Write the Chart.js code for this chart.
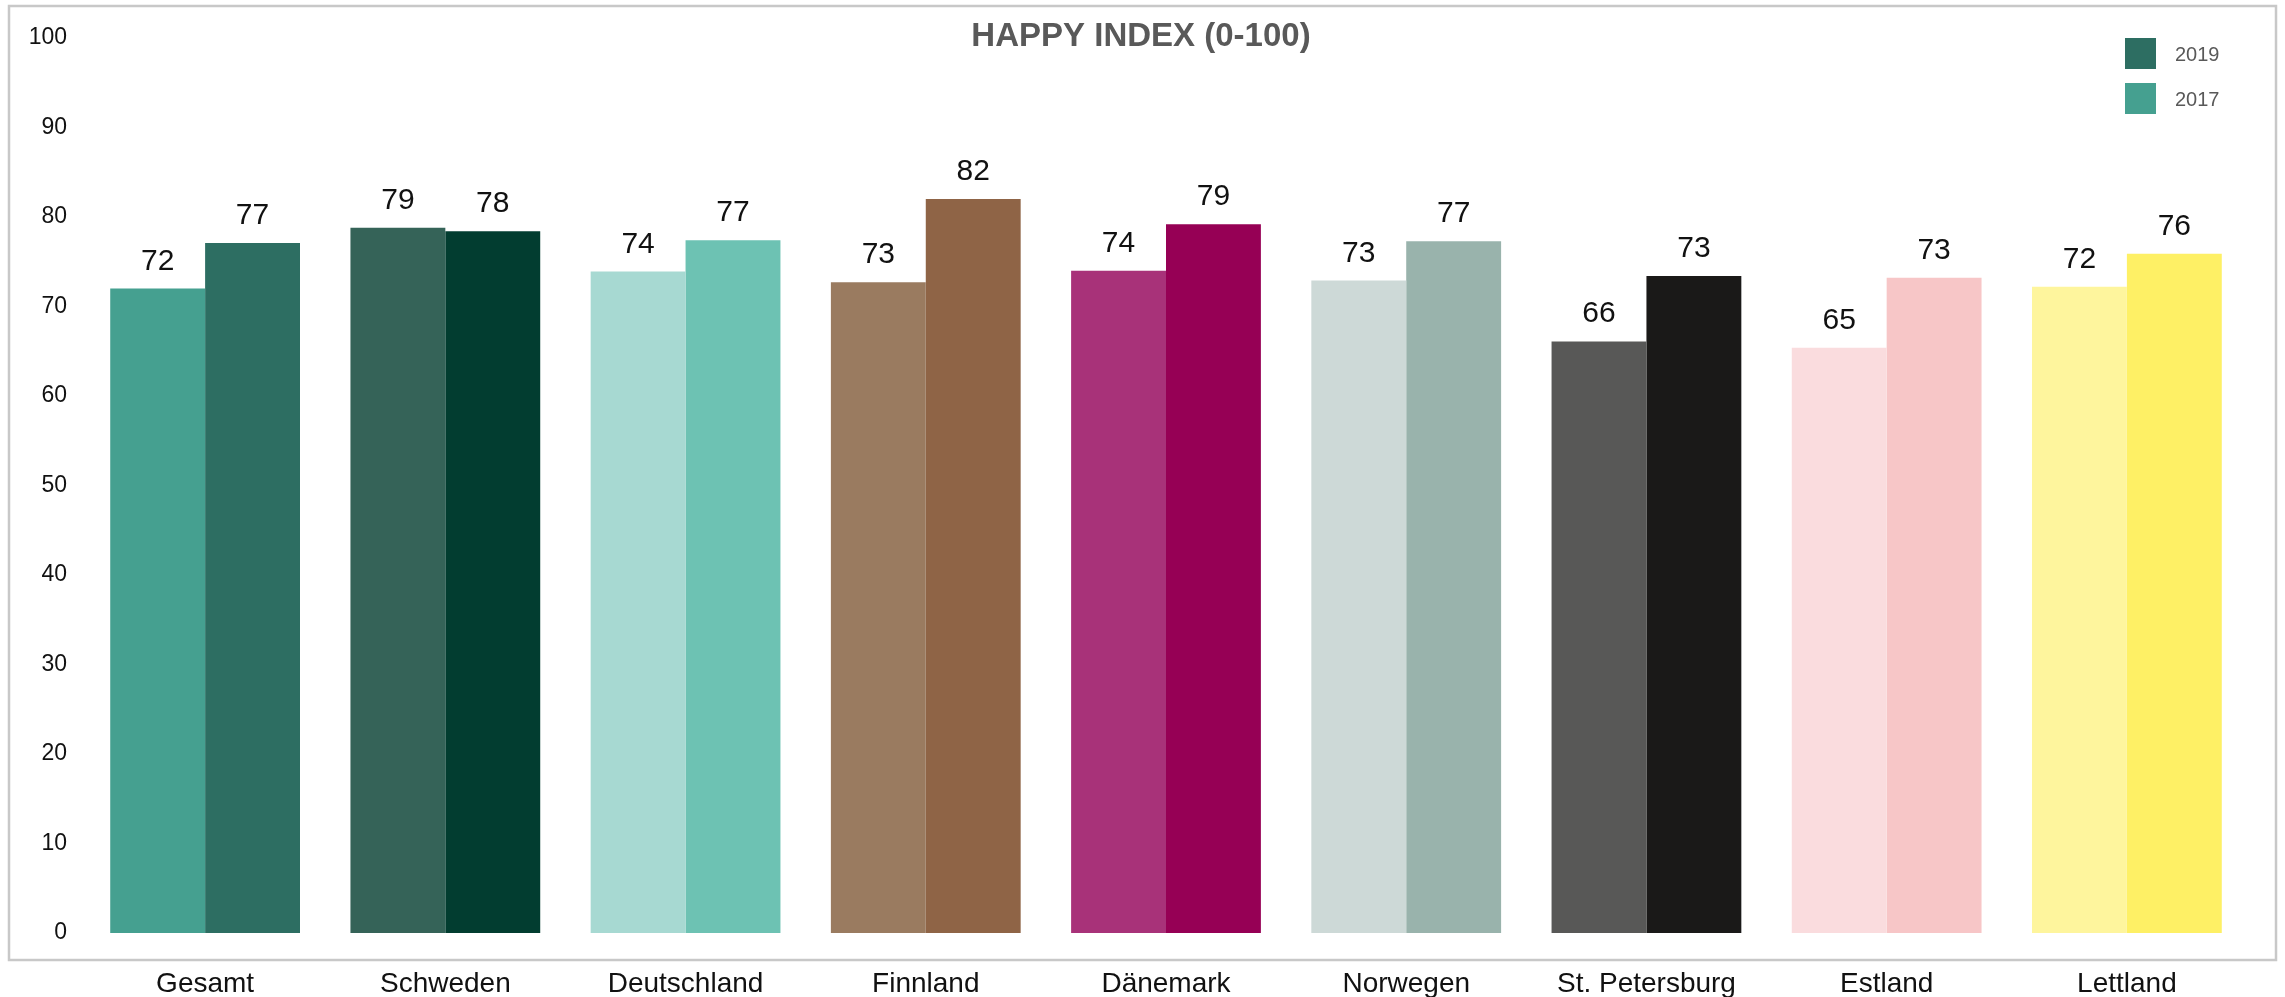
<!DOCTYPE html>
<html>
<head>
<meta charset="utf-8">
<script src="https://cdn.jsdelivr.net/npm/chart.js@4.4.1/dist/chart.umd.min.js"></script>
<style>
  html, body { margin: 0; padding: 0; background: #ffffff; }
  #wrap { width: 2285px; height: 997px; position: relative; }
</style>
</head>
<body>
<div id="wrap"><canvas id="c" width="2285" height="997"></canvas></div>
<script>
const categories = ["Gesamt", "Schweden", "Deutschland", "Finnland", "Dänemark", "Norwegen", "St. Petersburg", "Estland", "Lettland"];
const seriesNames = ["2017", "2019"];
const values2017 = [72.0, 78.8, 73.9, 72.7, 74.0, 72.9, 66.1, 65.4, 72.2];
const values2019 = [77.1, 78.4, 77.4, 82.0, 79.2, 77.3, 73.4, 73.2, 75.9];
const colors2017 = ["#45a090", "#356358", "#a7d9d2", "#9a7b60", "#a83279", "#cdd9d7", "#585857", "#fadcde", "#fef59d"];
const colors2019 = ["#2d6e62", "#023d30", "#6dc2b3", "#8f6446", "#960055", "#99b3ac", "#1a1918", "#f7c6c7", "#fef065"];
const legendColors = {"2019": "#2d6e62", "2017": "#45a090"};
const yTicks = [0, 10, 20, 30, 40, 50, 60, 70, 80, 90, 100];
const titleText = "HAPPY INDEX (0-100)";

const FONT = "'Liberation Sans', Arial, sans-serif";

const framePlugin = {
  id: 'frame',
  beforeDraw(chart) {
    const ctx = chart.ctx;
    ctx.save();
    ctx.fillStyle = '#ffffff';
    ctx.fillRect(0, 0, chart.width, chart.height);
    ctx.strokeStyle = '#c8c8c8';
    ctx.lineWidth = 2.5;
    ctx.strokeRect(9, 6, 2267, 954);
    ctx.restore();
  },
  afterDraw(chart) {
    const ctx = chart.ctx;
    ctx.save();
    // title
    ctx.fillStyle = '#595959';
    ctx.font = "bold 33px " + FONT;
    ctx.textAlign = 'center';
    ctx.textBaseline = 'middle';
    ctx.fillText(titleText, 1141, 37);
    // legend (2019 on top, 2017 below)
    const order = ["2019", "2017"];
    ctx.font = "20px " + FONT;
    ctx.textAlign = 'left';
    order.forEach((name, i) => {
      const y0 = 38 + i * 45;
      ctx.fillStyle = legendColors[name];
      ctx.fillRect(2125, y0, 31, 31);
      ctx.fillStyle = '#595959';
      ctx.fillText(name, 2175, y0 + 17);
    });
    ctx.restore();
  }
};

const labelPlugin = {
  id: 'barLabels',
  afterDatasetsDraw(chart) {
    const ctx = chart.ctx;
    ctx.save();
    ctx.font = "30px " + FONT;
    ctx.fillStyle = '#111111';
    ctx.textAlign = 'center';
    ctx.textBaseline = 'alphabetic';
    chart.data.datasets.forEach((ds, di) => {
      const meta = chart.getDatasetMeta(di);
      meta.data.forEach((bar, i) => {
        ctx.fillText(String(Math.round(ds.data[i])), bar.x, bar.y - 19);
      });
    });
    ctx.restore();
  }
};

new Chart(document.getElementById('c'), {
  type: 'bar',
  data: {
    labels: categories,
    datasets: [
      { label: seriesNames[0], data: values2017, backgroundColor: colors2017, borderWidth: 0 },
      { label: seriesNames[1], data: values2019, backgroundColor: colors2019, borderWidth: 0 }
    ]
  },
  options: {
    responsive: false,
    animation: false,
    devicePixelRatio: 1,
    layout: { padding: { top: 38, right: 38, bottom: 0, left: 0 } },
    plugins: {
      legend: { display: false },
      title: { display: false },
      tooltip: { enabled: false }
    },
    datasets: { bar: { categoryPercentage: 0.79, barPercentage: 1.0 } },
    scales: {
      x: {
        grid: { display: false, drawTicks: false },
        border: { display: false },
        ticks: { color: '#111111', font: { family: FONT, size: 28 }, padding: 34, maxRotation: 0, autoSkip: false },
        afterFit(scale) { scale.height = 64; }
      },
      y: {
        min: 0, max: 100,
        afterBuildTicks(scale) { scale.ticks = yTicks.map(v => ({ value: v })); },
        grid: { display: false, drawTicks: false },
        border: { display: false },
        ticks: { color: '#111111', font: { family: FONT, size: 23 }, padding: 18 },
        afterFit(scale) { scale.width = 85; }
      }
    }
  },
  plugins: [framePlugin, labelPlugin]
});
</script>
</body>
</html>
